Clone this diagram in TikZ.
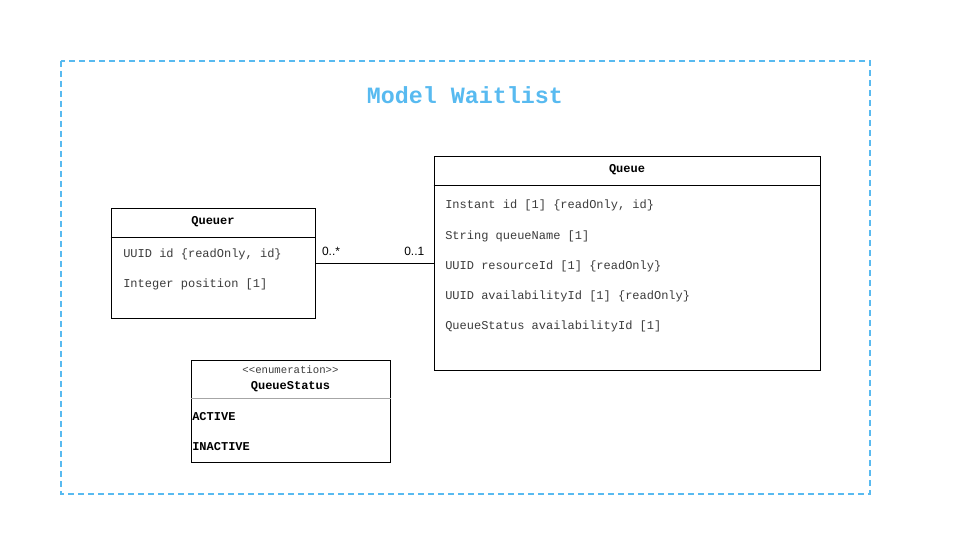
\documentclass[tikz,border=0pt]{standalone}
\usepackage{fontspec}
\setmonofont{Liberation Mono}
\setsansfont{Liberation Sans}
\usetikzlibrary{positioning, calc}
\definecolor{frameblue}{RGB}{88,186,240}
\definecolor{attrgray}{RGB}{60,60,60}

\tikzset{
	classbox/.style={draw, line width=0.75pt, fill=white, inner sep=0pt},
	classname/.style={font=\ttfamily\bfseries\fontsize{9}{10}\selectfont, inner sep=0pt},
	attr/.style={font=\ttfamily\fontsize{9}{10}\selectfont, text=attrgray, anchor=west, inner sep=0pt},
	literal/.style={font=\ttfamily\bfseries\fontsize{9}{10}\selectfont, anchor=west, inner sep=0pt},
	mult/.style={font=\sffamily\fontsize{9}{10}\selectfont, inner sep=0pt, yshift=5pt}
}

\begin{document}
\begin{tikzpicture}[x=0.75pt, y=-0.75pt]
	\useasboundingbox (0,0) rectangle (961,560);

	% package frame
	\draw[frameblue, line width=1.5pt, dash pattern=on 4.5pt off 3pt] (61,61) rectangle (870,494);
	\node[font=\ttfamily\bfseries\fontsize{17.5}{20}\selectfont, text=frameblue] (title) at (465,95) {Model Waitlist};

	% Queuer
	\node[classbox, minimum width=153pt, minimum height=82.5pt] (queuer) at (213,263) {};
	\draw[line width=0.75pt] (queuer.west |- 0,237) -- (queuer.east |- 0,237);
	\node[classname] (queuername) at (213,222) {Queuer};
	\node[attr] (queuerid) at (123,254) {UUID id \{readOnly, id\}};
	\node[attr] (queuerpos) at (123,284) {Integer position [1]};

	% Queue
	\node[classbox, minimum width=289.5pt, minimum height=160.5pt] (queue) at (627,263) {};
	\draw[line width=0.75pt] (queue.west |- 0,185) -- (queue.east |- 0,185);
	\node[classname] (queuename) at (627,170) {Queue};
	\node[attr] (queueid) at (445,205) {Instant id [1] \{readOnly, id\}};
	\node[attr] (queuenm) at (445,236) {String queueName [1]};
	\node[attr] (queueres) at (445,266) {UUID resourceId [1] \{readOnly\}};
	\node[attr] (queueavail) at (445,296) {UUID availabilityId [1] \{readOnly\}};
	\node[attr] (queuestat) at (445,326) {QueueStatus availabilityId [1]};

	% association
	\draw[line width=0.75pt] (queuer.east) -- (queue.west)
		node[pos=0, mult, anchor=south west, xshift=4.5pt] (multqueuer) {0..*}
		node[pos=1, mult, anchor=south east, xshift=-6.5pt] (multqueue) {0..1};

	% QueueStatus enumeration
	\node[classbox, minimum width=149.25pt, minimum height=76.5pt] (status) at (290.5,411) {};
	\node[font=\ttfamily\fontsize{8}{9}\selectfont, text=attrgray, inner sep=0pt] (stereo) at (290.5,370) {<<enumeration>>};
	\node[classname] (statusname) at (290.5,387) {QueueStatus};
	\draw[black!35, line width=0.75pt] (status.west |- 0,398) -- (status.east |- 0,398);
	\node[literal] (active) at (192,417) {ACTIVE};
	\node[literal] (inactive) at (192,447) {INACTIVE};
\end{tikzpicture}
\end{document}
